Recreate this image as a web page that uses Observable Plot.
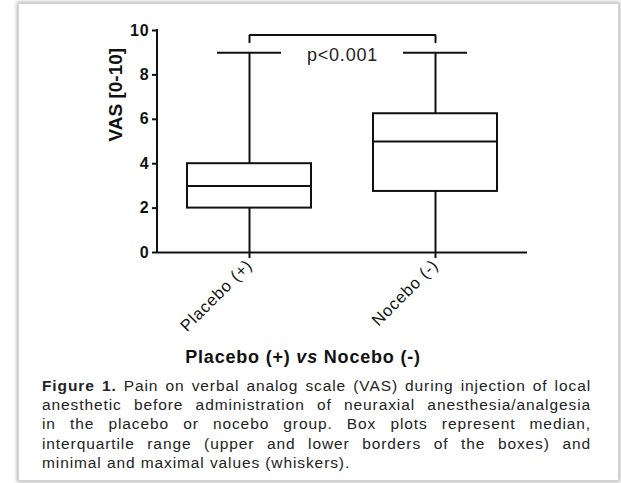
<!DOCTYPE html>
<html><head><meta charset="utf-8">
<script src="https://cdn.jsdelivr.net/npm/d3@7"></script>
<script src="https://cdn.jsdelivr.net/npm/@observablehq/plot@0.6"></script>
<style>
html,body{margin:0;padding:0;background:#fff;}
body{width:621px;height:483px;position:relative;overflow:hidden;font-family:"Liberation Sans",Arial,sans-serif;}
#frame{position:absolute;left:18px;top:3px;width:599px;height:476px;border:1px solid #d4d4d4;box-shadow:0 0 4px 1px rgba(0,0,0,0.32);background:#fff;}
#chart{position:absolute;left:0;top:0;}
#xtitle{position:absolute;left:0;top:348px;width:606px;text-align:center;font-weight:bold;font-size:18px;line-height:18px;color:#111;letter-spacing:0.8px;white-space:nowrap;}
#caption{position:absolute;left:42px;top:376px;width:549px;font-size:15.5px;line-height:19.2px;color:#222;letter-spacing:0.9px;}
#caption div{text-align:justify;text-align-last:justify;}
#caption div.last{text-align-last:left;}
</style></head><body>
<div id="frame"></div>
<div id="chart"></div>
<div id="xtitle"></div>
<div id="caption"></div>
<script>
// ---- data ----
const groups = ["Placebo (+)", "Nocebo (-)"];
const minVals = [0, 0];
const q1Vals = [2, 2.75];
const medianVals = [3, 5];
const q3Vals = [4, 6.25];
const maxVals = [9, 9];
const yTicks = [0, 2, 4, 6, 8, 10];
const yDomain = [0, 10];
const bracketLow = 9.47;
const bracketHigh = 9.8;
const pLabel = "p<0.001";
const pLabelY = 8.9;
const yLabel = "VAS [0-10]";
const xLabelParts = ["Placebo (+) ", "vs", " Nocebo (-)"];
const captionBold = "Figure 1.";
const captionLines = [
  " Pain on verbal analog scale (VAS) during injection of local",
  "anesthetic before administration of neuraxial anesthesia/analgesia",
  "in the placebo or nocebo group. Box plots represent median,",
  "interquartile range (upper and lower borders of the boxes) and",
  "minimal and maximal values (whiskers)."
];

const boxes = groups.map((g, i) => ({
  group: g, min: minVals[i], q1: q1Vals[i], median: medianVals[i], q3: q3Vals[i], max: maxVals[i]
}));
const bracket = [
  {group: groups[0], y: bracketLow},
  {group: groups[0], y: bracketHigh},
  {group: groups[1], y: bracketHigh},
  {group: groups[1], y: bracketLow}
];

const ink = "#111";

const yAxisLine = (index, scales, values, dims) => {
  return d3.create("svg:line")
    .attr("x1", dims.marginLeft).attr("x2", dims.marginLeft)
    .attr("y1", scales.y(yDomain[0])).attr("y2", scales.y(yDomain[1]))
    .attr("stroke", ink).attr("stroke-width", 2)
    .attr("stroke-linecap", "square")
    .node();
};

const svg = Plot.plot({
  width: 621,
  height: 370,
  marginLeft: 157,
  marginRight: 94,
  marginTop: 30,
  marginBottom: 118,
  style: {fontFamily: "'Liberation Sans', Arial, sans-serif", color: ink, background: "transparent", overflow: "visible", letterSpacing: "0.8px"},
  x: {type: "band", domain: groups, paddingInner: 0.333, paddingOuter: 0.16, align: 0.5, axis: null},
  y: {domain: yDomain, axis: null},
  marks: [
    Plot.ruleY([0], {stroke: ink, strokeWidth: 2}),
    yAxisLine,
    Plot.axisY({ticks: yTicks, tickSize: 5, tickPadding: 3, strokeWidth: 2, fontSize: 16, fontWeight: "bold", label: null, stroke: ink}),
    Plot.axisX({tickSize: 6, tickPadding: 4, tickRotate: -45, strokeWidth: 2, fontSize: 16.5, label: null, stroke: ink}),
    Plot.ruleX(boxes, {x: "group", y1: "q3", y2: "max", stroke: ink, strokeWidth: 2}),
    Plot.ruleX(boxes, {x: "group", y1: "min", y2: "q1", stroke: ink, strokeWidth: 2}),
    Plot.tickY(boxes, {x: "group", y: "max", stroke: ink, strokeWidth: 2, insetLeft: 30, insetRight: 30}),
    Plot.barY(boxes, {x: "group", y1: "q1", y2: "q3", fill: "white", stroke: ink, strokeWidth: 2}),
    Plot.tickY(boxes, {x: "group", y: "median", stroke: ink, strokeWidth: 2}),
    Plot.line(bracket, {x: "group", y: "y", stroke: ink, strokeWidth: 2, strokeLinejoin: "miter", curve: "linear"}),
    Plot.text([{label: pLabel, y: pLabelY}], {text: "label", y: "y", frameAnchor: "middle", fontSize: 18, fill: "#222"}),
    Plot.text([yLabel], {text: d => d, frameAnchor: "left", rotate: -90, dx: -42, fontSize: 19, fontWeight: "bold", fill: ink})
  ]
});
const s = d3.select(svg);
s.selectAll("text").filter(function() { return this.textContent === yLabel; }).style("letter-spacing", "0px");
s.selectAll('g[aria-label="y-axis tick label"]').style("font-weight", "bold").attr("font-weight", "bold").style("font-size", "16px");
s.selectAll('g[aria-label="y-axis tick label"] text').style("font-weight", "bold");
document.getElementById("chart").appendChild(svg);

const xt = document.getElementById("xtitle");
xt.append(xLabelParts[0]);
const it = document.createElement("i"); it.textContent = xLabelParts[1]; xt.append(it);
xt.append(xLabelParts[2]);

const cap = document.getElementById("caption");
captionLines.forEach((line, i) => {
  const div = document.createElement("div");
  if (i === 0) { const b = document.createElement("b"); b.textContent = captionBold; div.append(b); }
  div.append(line);
  if (i === captionLines.length - 1) div.className = "last";
  cap.appendChild(div);
});
</script>
</body></html>
